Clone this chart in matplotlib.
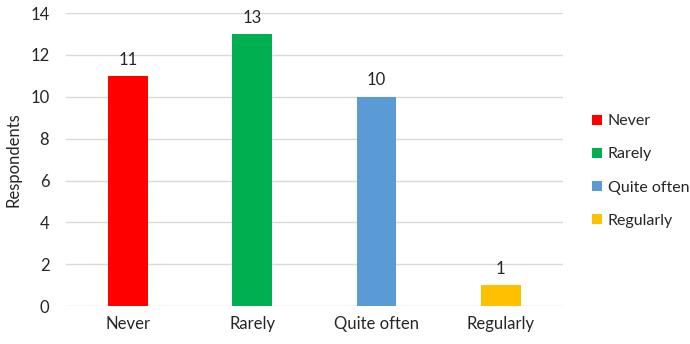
import matplotlib
matplotlib.use("Agg")
import matplotlib.pyplot as plt

categories = ["Never", "Rarely", "Quite often", "Regularly"]
respondents = [11, 13, 10, 1]
colors = ["#FF0000", "#00B050", "#5B9BD5", "#FFC000"]

plt.rcParams['font.family'] = ['Lato', 'DejaVu Sans']
plt.rcParams['font.size'] = 12

fig = plt.figure(figsize=(6.9, 3.44), dpi=100)
ax = fig.add_axes([0.0957, 0.110, 0.720, 0.852])

x = range(len(categories))
bars = ax.bar(x, respondents, width=0.32, color=colors, zorder=3)

for xi, v in zip(x, respondents):
    ax.annotate(str(v), (xi, v), xytext=(0, 6), textcoords="offset points",
                ha="center", va="bottom", color="#262626")

ax.set_xlim(-0.5, len(categories) - 0.5)
ax.set_ylim(0, 14)
ax.set_yticks(range(0, 15, 2))
ax.set_xticks(list(x))
ax.set_xticklabels(categories)
ax.set_ylabel("Respondents", color="#262626", labelpad=6)
ax.grid(axis="y", color="#D9D9D9", linewidth=1, zorder=0)
for s in ax.spines.values():
    s.set_visible(False)
ax.tick_params(length=0, colors="#262626", pad=7)
ax.tick_params(axis="y", pad=12)

leg = fig.legend(bars, categories, loc="center left", bbox_to_anchor=(0.858, 0.503),
                 frameon=False, fontsize=11.5, handlelength=0.6, handleheight=0.6,
                 handletextpad=0.4, labelspacing=1.2, borderaxespad=0, borderpad=0)
for t in leg.get_texts():
    t.set_color("#262626")

fig.savefig("out.png", dpi=100)
